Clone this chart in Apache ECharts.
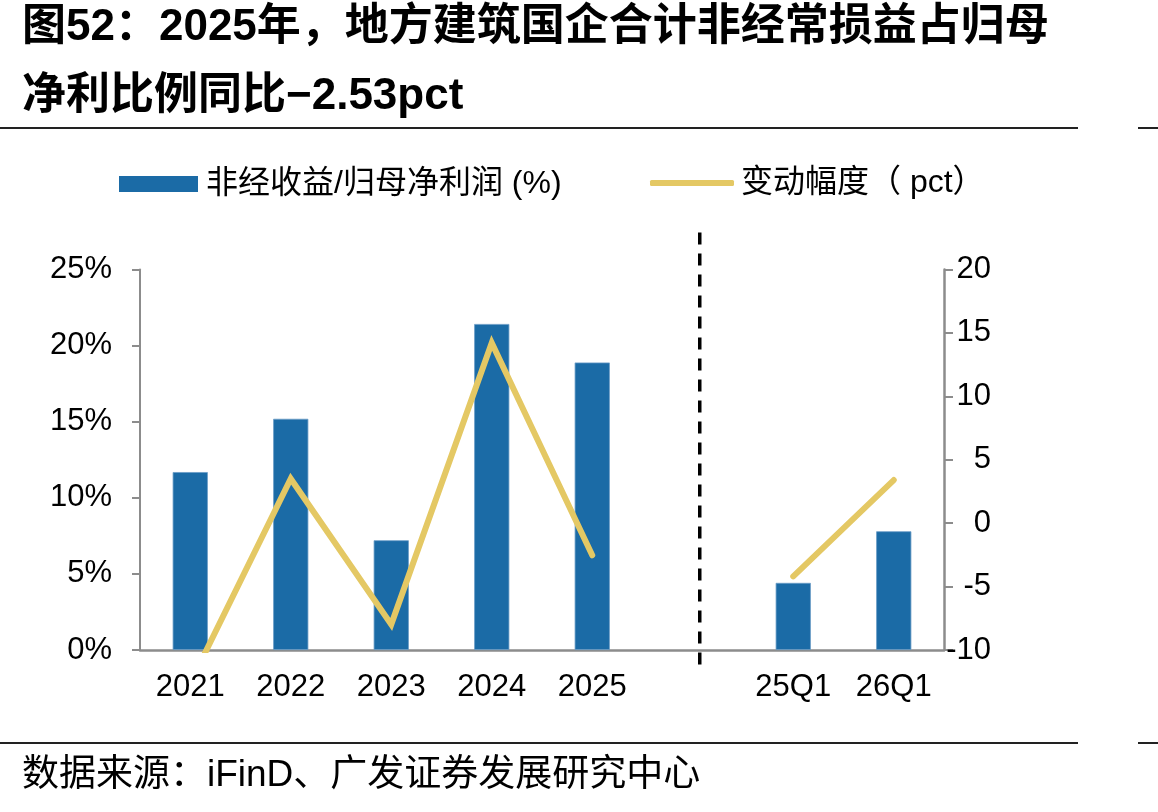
<!DOCTYPE html>
<html>
<head>
<meta charset="utf-8">
<script src="https://cdn.jsdelivr.net/npm/echarts@6/dist/echarts.min.js"></script>
<style>
html,body{margin:0;padding:0;background:#fff;}
#c{width:1158px;height:812px;}
</style>
</head>
<body>
<div id="c"></div>
<script>
// ---- data ----
var categories = ['2021', '2022', '2023', '2024', '2025', '', '25Q1', '26Q1'];
var ratioValues = [11.69, 15.19, 7.21, 21.42, 18.89, null, 4.41, 7.80];   // 非经收益/归母净利润 (%)
var changeValues = [-12.6, 3.50, -7.98, 14.21, -2.53, null, -4.20, 3.40]; // 变动幅度（pct）
var leftTicks = { min: 0, max: 25, interval: 5 };
var rightTicks = { min: -10, max: 20, interval: 5 };
var seriesNames = ['非经收益/归母净利润 (%)', '变动幅度（ pct）'];
var titleLines = ['图52：2025年，地方建筑国企合计非经常损益占归母', '净利比例同比−2.53pct'];
var sourceText = '数据来源：iFinD、广发证券发展研究中心';

var FONT = '"Liberation Sans", Arial, "Noto Sans CJK SC", sans-serif';
var BLUE = '#1B6BA6';
var GOLD = '#E4C864';
var AXIS = '#8c8c8c';

var chart = echarts.init(document.getElementById('c'), null, { renderer: 'canvas' });

function toNum(a) { return a.map(function (v) { return v === null ? '-' : v; }); }

var option = {
  backgroundColor: '#ffffff',
  animation: false,
  textStyle: { fontFamily: FONT },
  grid: { left: 140, right: 214, top: 269.5, bottom: 162, containLabel: false },
  legend: [
    {
      data: [{ name: seriesNames[0], icon: 'rect' }], left: 119, top: 168, padding: 0,
      itemWidth: 79, itemHeight: 16,
      itemStyle: { color: BLUE, borderWidth: 0 },
      textStyle: { fontSize: 32, color: '#000', fontFamily: FONT, padding: [0, 0, 0, 3] }
    },
    {
      data: [{ name: seriesNames[1], icon: 'roundRect' }], left: 650, top: 167, padding: 0,
      itemWidth: 84, itemHeight: 6,
      itemStyle: { color: GOLD, borderWidth: 0 },
      textStyle: { fontSize: 32, color: '#000', fontFamily: FONT, padding: [0, 0, 0, 2] }
    }
  ],
  xAxis: {
    type: 'category',
    data: categories,
    boundaryGap: true,
    axisLine: { show: true, lineStyle: { color: AXIS, width: 2.5 } },
    axisTick: { show: false },
    axisLabel: { fontSize: 31, color: '#000', margin: 22, interval: 0, fontFamily: FONT },
    splitLine: { show: false }
  },
  yAxis: [
    {
      type: 'value', position: 'left',
      min: leftTicks.min, max: leftTicks.max, interval: leftTicks.interval,
      axisLine: { show: true, lineStyle: { color: AXIS, width: 2 } },
      axisTick: { show: true, inside: false, length: 8, lineStyle: { color: AXIS, width: 2 } },
      axisLabel: { fontSize: 31, color: '#000', margin: 28, formatter: '{value}%', fontFamily: FONT },
      splitLine: { show: false }
    },
    {
      type: 'value', position: 'right',
      min: rightTicks.min, max: rightTicks.max, interval: rightTicks.interval,
      axisLine: { show: true, lineStyle: { color: AXIS, width: 2.5 } },
      axisTick: { show: true, inside: false, length: 9, lineStyle: { color: AXIS, width: 2 } },
      axisLabel: { fontSize: 31, color: '#000', margin: 47, align: 'right', fontFamily: FONT },
      splitLine: { show: false }
    }
  ],
  series: [
    {
      name: seriesNames[0], type: 'bar', yAxisIndex: 0,
      data: toNum(ratioValues),
      barWidth: '35%',
      itemStyle: { color: BLUE, borderColor: '#6a9cc6', borderWidth: 0.8 }
    },
    {
      name: seriesNames[1], type: 'line', yAxisIndex: 1,
      data: toNum(changeValues),
      symbol: 'none', showSymbol: false,
      connectNulls: false, clip: true,
      itemStyle: { color: GOLD },
      lineStyle: { color: GOLD, width: 6, cap: 'round', join: 'miter' }
    }
  ]
};
chart.setOption(option);

// dividers, title, source, dashed separator
var sepX = chart.convertToPixel({ xAxisIndex: 0 }, 5) + 7;
var yTop = chart.convertToPixel({ yAxisIndex: 0 }, leftTicks.max);
var yBot = chart.convertToPixel({ yAxisIndex: 0 }, leftTicks.min);

chart.setOption({
  graphic: [
    { type: 'text', left: 22, top: 6, style: { text: titleLines[0], font: 'bold 44px ' + FONT, fill: '#000' } },
    { type: 'text', left: 22, top: 75, style: { text: titleLines[1], font: 'bold 44px ' + FONT, fill: '#000' } },
    { type: 'line', shape: { x1: 0, y1: 128, x2: 1078, y2: 128 }, style: { stroke: '#222', lineWidth: 2 } },
    { type: 'line', shape: { x1: 1138, y1: 128, x2: 1158, y2: 128 }, style: { stroke: '#222', lineWidth: 2 } },
    { type: 'line', shape: { x1: 0, y1: 743, x2: 1078, y2: 743 }, style: { stroke: '#222', lineWidth: 2 } },
    { type: 'line', shape: { x1: 1138, y1: 743, x2: 1158, y2: 743 }, style: { stroke: '#222', lineWidth: 2 } },
    { type: 'text', left: 22, top: 757, style: { text: sourceText, font: '37px ' + FONT, fill: '#000' } },
    {
      type: 'line',
      shape: { x1: sepX, y1: yTop - 37, x2: sepX, y2: yBot + 22 },
      style: { stroke: '#000', lineWidth: 3.5, lineDash: [12, 9] }
    }
  ]
});
</script>
</body>
</html>
